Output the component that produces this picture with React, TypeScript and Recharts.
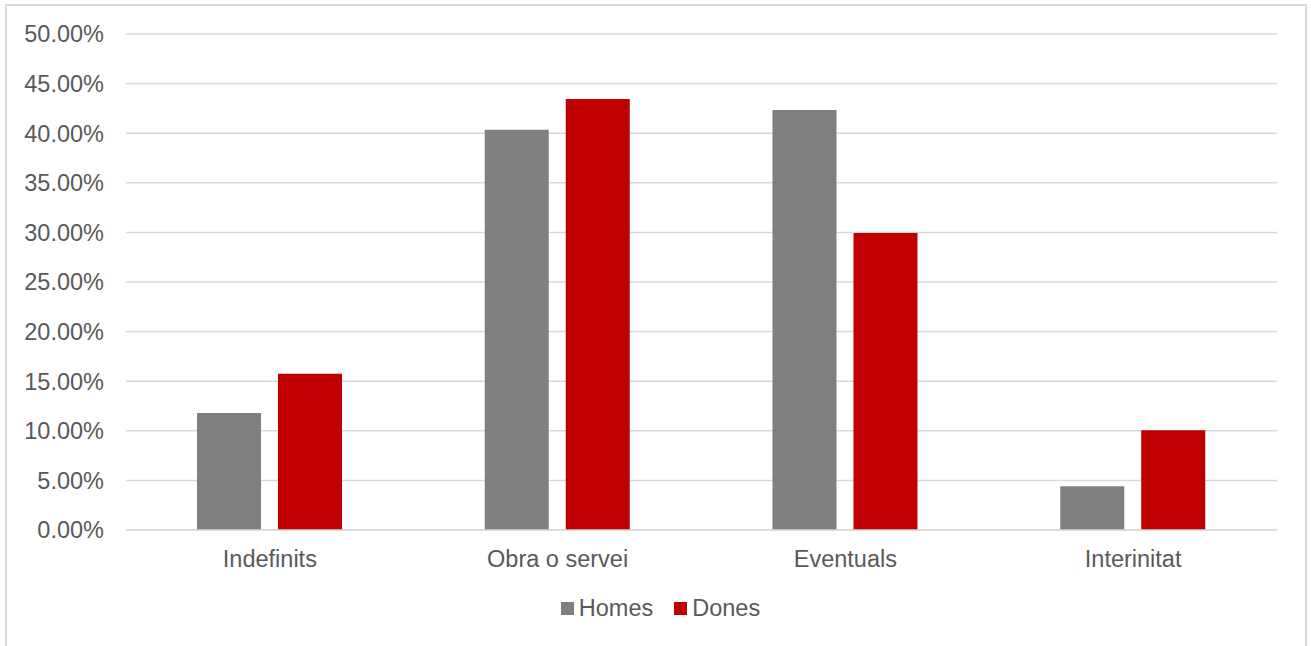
import React from 'react';
import { BarChart, Bar, XAxis, YAxis, CartesianGrid, Legend } from 'recharts';

const categories = ['Indefinits', 'Obra o servei', 'Eventuals', 'Interinitat'];
const homes = [11.8, 40.35, 42.35, 4.4];
const dones = [15.75, 43.45, 29.95, 10.05];
const yTicks = [0, 5, 10, 15, 20, 25, 30, 35, 40, 45, 50];
const seriesOrder = ['Homes', 'Dones'];

const chartData = categories.map((name, i) => ({ name, Homes: homes[i], Dones: dones[i] }));

const FONT = '"Liberation Sans", Arial, sans-serif';
const TEXT = '#595959';
const FS = 23.5;

const LegendContent = (props: any) => {
  const items = [...(props.payload || [])].sort(
    (a: any, b: any) => seriesOrder.indexOf(a.value) - seriesOrder.indexOf(b.value)
  );
  return (
    <div style={{ display: 'flex', justifyContent: 'center', gap: 21, fontFamily: FONT, fontSize: FS, color: TEXT }}>
      {items.map((p: any) => (
        <div key={p.value} style={{ display: 'flex', alignItems: 'center' }}>
          <span style={{ width: 13, height: 13, background: p.color, marginRight: 5, display: 'inline-block' }} />
          <span>{p.value}</span>
        </div>
      ))}
    </div>
  );
};

export default function App() {
  return (
    <div style={{ position: 'absolute', left: 0, top: 0, width: 1311, height: 646, background: '#fff', overflow: 'hidden' }}>
      {/* outer frame */}
      <div style={{ position: 'absolute', left: 5, top: 4, width: 1298, height: 660, border: '2px solid #d9d9d9' }} />
      <BarChart
        width={1311}
        height={646}
        data={chartData}
        margin={{ top: 34, right: 34, left: 0, bottom: 0 }}
        barSize={64}
        barGap={17}
        style={{ position: 'absolute', left: 0, top: 0 }}
      >
        <CartesianGrid vertical={false} stroke="#d9d9d9" strokeWidth={1.5} />
        <XAxis
          dataKey="name"
          height={86}
          tickLine={false}
          axisLine={{ stroke: '#d9d9d9', strokeWidth: 1.5 }}
          tickMargin={14}
          tick={{ fill: TEXT, fontSize: FS, fontFamily: FONT }}
        />
        <YAxis
          width={126}
          domain={[0, 50]}
          ticks={yTicks}
          interval={0}
          tickLine={false}
          axisLine={false}
          tickMargin={16}
          tickFormatter={(v: number) => v.toFixed(2) + '%'}
          tick={{ fill: TEXT, fontSize: FS, fontFamily: FONT }}
        />
        <Legend verticalAlign="bottom" wrapperStyle={{ height: 30, bottom: 21, left: 22 }} content={<LegendContent />} />
        <Bar dataKey="Homes" fill="#7f7f7f" isAnimationActive={false} />
        <Bar dataKey="Dones" fill="#c00000" isAnimationActive={false} />
      </BarChart>
    </div>
  );
}
